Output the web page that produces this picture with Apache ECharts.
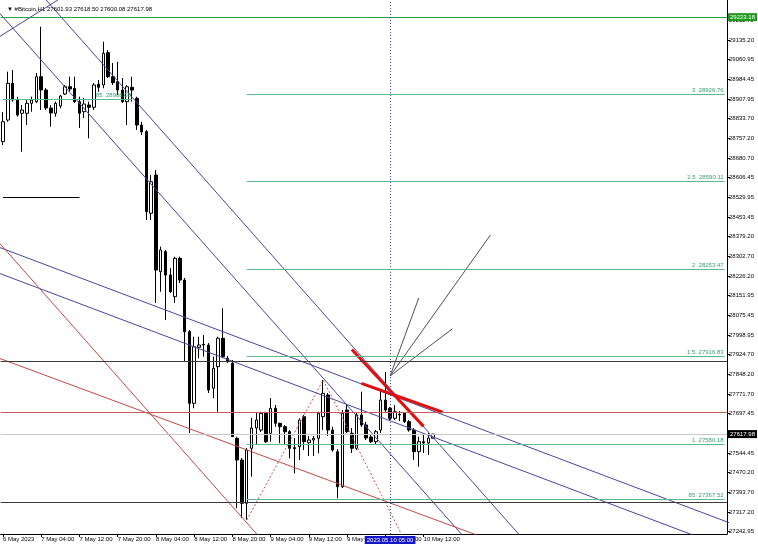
<!DOCTYPE html>
<html><head><meta charset="utf-8">
<script src="https://cdn.jsdelivr.net/npm/echarts@6/dist/echarts.min.js"></script>
<style>html,body{margin:0;padding:0;background:#fff}#c{width:758px;height:546px}</style>
</head><body><div id="c"></div>
<script>
// ---------- DATA ----------
const chartTitle = '\u25BC #Bitcoin,H1 27601.93 27618.50 27600.08 27617.98';
const slotCount = 152; // hourly slots shown (bars + right shift)
const xTickLabels = ['6 May 2023','7 May 04:00','7 May 12:00','7 May 20:00','8 May 04:00','8 May 12:00',
  '8 May 20:00','9 May 04:00','9 May 12:00','9 May 20:00','10 May 04:00','10 May 12:00'];
const yTickValues = [29211.70,29135.20,29060.95,28984.45,28907.95,28833.70,28757.20,28680.70,28606.45,
  28529.95,28453.45,28379.20,28302.70,28226.20,28151.95,28075.45,27998.95,27924.70,27848.20,27771.70,
  27697.45,27620.95,27544.45,27470.20,27393.70,27317.20,27242.95];
const opens = [28743.7,28827.2,28968.5,28904.2,28853.0,28853.0,28891.5,28897.7,28993.9,28942.7,
  28873.4,28853.0,28881.1,28927.3,28955.4,28949.2,28897.7,28859.2,28885.0,28876.1,
  28964.7,28962.0,29086.3,28993.9,28974.7,28942.7,28897.7,28953.1,28910.8,28807.9,
  28782.2,28468.0,28615.5,28243.2,28320.2,28230.5,28146.9,28294.7,28211.2,28012.2,
  27736.5,27952.1,27963.7,27961.0,27794.2,27877.4,27986.8,27909.7,27890.5,27601.7,
  27518.2,27351.5,27563.3,27641.4,27633.7,27698.0,27621.0,27717.2,27659.5,27646.4,
  27627.1,27565.6,27569.4,27684.9,27584.8,27595.2,27601.7,27684.9,27768.5,27633.7,
  27550.2,27415.4,27710.7,27621.0,27563.3,27691.5,27652.9,27606.8,27588.7,27633.7,
  27749.2,27717.2,27678.7,27693.4,27699.2,27665.7,27633.7,27550.2,27588.7,27583.7,27601.93];
const highs = [28858.0,29013.2,29019.7,28916.9,28885.0,28904.2,28916.9,29008.2,29186.4,28950.4,
  28885.0,28897.7,28923.5,28961.9,28993.9,28993.9,28916.9,28911.9,28897.7,28969.7,
  28981.2,29128.7,29096.7,29046.6,29051.7,28988.9,28962.0,28993.9,28916.9,28820.7,
  28788.7,28615.5,28634.7,28339.4,28326.7,28257.4,28300.9,28300.9,28218.9,28018.7,
  27992.9,27992.9,27999.5,27968.7,27915.9,27992.9,28102.2,27918.6,27903.2,27607.9,
  27525.9,27564.4,27679.9,27699.2,27704.2,27704.2,27756.9,27730.0,27661.8,27652.9,
  27633.7,27602.9,27678.7,27691.5,27610.6,27610.6,27704.2,27826.2,27776.2,27646.4,
  27560.6,27710.7,27730.0,27641.4,27699.2,27781.1,27664.5,27614.5,27633.7,27787.7,
  27857.0,27722.3,27730.0,27706.9,27703.0,27672.2,27641.4,27607.9,27614.5,27622.2,27618.50];
const lows = [28731.0,28820.7,28897.7,28839.9,28705.2,28808.0,28859.2,28892.7,28865.7,28865.7,
  28801.4,28839.9,28872.2,28923.5,28936.2,28892.7,28796.4,28834.9,28756.7,28865.7,
  28936.2,28949.3,28988.9,28962.0,28923.5,28892.7,28808.0,28897.7,28788.7,28769.5,
  28442.2,28442.2,28122.7,28166.2,28057.2,28161.2,28122.7,28199.7,27896.7,27622.2,
  27717.2,27909.8,27915.9,27776.2,27755.7,27704.2,27909.7,27891.7,27606.8,27332.3,
  27294.9,27287.2,27453.9,27576.0,27626.0,27583.7,27588.7,27646.4,27582.5,27576.0,
  27524.7,27467.0,27518.2,27556.7,27533.6,27533.6,27544.0,27633.7,27610.6,27550.2,
  27370.8,27410.4,27622.2,27545.2,27556.7,27645.3,27595.2,27583.7,27579.8,27622.2,
  27699.2,27672.2,27672.2,27668.4,27660.7,27627.1,27518.2,27492.4,27545.2,27537.5,27600.08];
const closes = [28820.7,28968.5,28904.2,28846.5,28865.7,28891.5,28904.2,28993.9,28942.7,28873.4,
  28854.2,28891.5,28919.6,28955.4,28946.6,28897.7,28853.0,28888.8,28876.1,28962.0,
  28953.1,29084.0,28993.9,28970.8,28942.7,28897.7,28955.4,28942.7,28807.9,28782.2,
  28474.2,28589.6,28249.7,28326.7,28230.5,28166.2,28294.7,28211.2,28012.2,27736.5,
  27954.4,27961.0,27961.0,27787.7,27871.2,27986.8,27915.9,27896.7,27607.9,27518.2,
  27351.5,27556.7,27641.4,27672.2,27698.0,27588.7,27717.2,27659.5,27646.4,27627.1,
  27563.3,27562.0,27672.2,27588.7,27595.2,27601.7,27698.0,27775.0,27633.7,27556.7,
  27415.4,27698.0,27627.1,27563.3,27691.5,27652.9,27602.9,27588.7,27627.1,27749.2,
  27710.7,27678.7,27704.2,27691.5,27665.7,27633.7,27550.2,27588.7,27583.7,27602.9,27617.98];

// trend lines: [startSlot, startPrice, endSlot, endPrice]
const navyTrendLines = [
  [-3, 29539.1, 112, 27147.8],
  [-4, 29306.5, 100, 27148.2],
  [-1, 29144.8, 14, 29318.8],
  [-1, 28338.6, 155, 27255.6],
  [-1, 28238.5, 155, 27155.5]
];
const redTrendLines = [
  [-1, 27911.3, 110, 27155.2],
  [-1, 28358.7, 60, 27089.3]
];
const boldRedLines = [
  [73, 27943.6, 88, 27647.6],
  [75, 27813.5, 92, 27702.6]
];
const zigzagSlots = [51, 67, 84];
const zigzagPrices = [27287.2, 27826.2, 27210.0];
const fanOrigin = [81, 27841.6];
const fanEnds = [[102, 28384.5], [87, 28141.9], [94, 28022.6]];
const fibLevelNames = ['3', '2.5', '2', '1.5', '1', '85'];
const fibLevelPrices = [28926.76, 28590.11, 28253.47, 27916.83, 27580.18, 27367.52];
const fibStartSlot = 51;
const leftFib = {name: '85', price: 28908.0, from: 0, to: 27};
const shortBlackLine = {price: 28530.75, from: 0, to: 16};
const topGreenLevel = 29223.18;
const darkLevels = [27900.0, 27356.5];
const redLevel = 27703.0;
const bidPrice = 27617.98;
const cursorSlot = 81;
const cursorLabel = '2023.05.10 05:00';

// ---------- CHART ----------
const base = new Date(2023, 4, 6, 20, 0);
const pad = n => String(n).padStart(2, '0');
const categories = [];
for (let i = 0; i < slotCount; i++) {
  const d = new Date(base.getTime() + i * 3600000);
  categories.push(d.getFullYear() + '.' + pad(d.getMonth() + 1) + '.' + pad(d.getDate()) + ' ' + pad(d.getHours()) + ':00');
}
const FONT = 'Liberation Sans, DejaVu Sans, sans-serif';
const candleData = opens.map((o, i) => [o, closes[i], lows[i], highs[i]]);

function seg(pts, color, width, type) {
  return {type: 'line', data: pts, symbol: 'none', silent: true, clip: true, animation: false,
    lineStyle: {color: color, width: width, type: type || 'solid'}, z: 3};
}
const series = [];
series.push({
  type: 'candlestick', data: candleData, barWidth: 3, animation: false, silent: true, z: 2,
  itemStyle: {color: '#ffffff', color0: '#000000', borderColor: '#000000', borderColor0: '#000000', borderWidth: 1},
  markLine: {
    symbol: 'none', silent: true, animation: false, precision: 2,
    data: [
      {yAxis: topGreenLevel, lineStyle: {color: '#2ea043', width: 1, type: 'solid'},
       label: {show: true, position: 'end', distance: 1, formatter: topGreenLevel.toFixed(2), color: '#fff',
               backgroundColor: '#1f9a1f', padding: [1, 2], fontSize: 6, fontFamily: FONT}},
      {yAxis: darkLevels[0], lineStyle: {color: '#3a3a3a', width: 1, type: 'solid'}, label: {show: false}},
      {yAxis: darkLevels[1], lineStyle: {color: '#3a3a3a', width: 1, type: 'solid'}, label: {show: false}},
      {yAxis: redLevel, lineStyle: {color: '#c85a5a', width: 1, type: 'solid'}, label: {show: false}},
      {yAxis: bidPrice, lineStyle: {color: '#c8c8c8', width: 1, type: 'solid'},
       label: {show: true, position: 'end', distance: 1, formatter: bidPrice.toFixed(2), color: '#fff',
               backgroundColor: '#000', padding: [1, 2], fontSize: 6, fontFamily: FONT}},
      {xAxis: cursorSlot, lineStyle: {color: '#4a4aa8', width: 1, type: [1, 2]},
       label: {show: true, position: 'start', distance: 2, formatter: cursorLabel, color: '#fff',
               backgroundColor: '#1414c8', padding: [1, 2], fontSize: 6, fontFamily: FONT}},
      [{coord: [shortBlackLine.from, shortBlackLine.price], lineStyle: {color: '#000', width: 1, type: 'solid'}, label: {show: false}},
       {coord: [shortBlackLine.to, shortBlackLine.price]}],
      [{coord: [leftFib.from, leftFib.price], lineStyle: {color: '#5cba8a', width: 1, type: 'solid'},
        label: {show: true, position: 'insideEndTop', distance: 1, formatter: leftFib.name + '  ' + leftFib.price.toFixed(2),
                color: '#3aa070', fontSize: 6, fontFamily: FONT}},
       {coord: [leftFib.to, leftFib.price]}]
    ].concat(fibLevelPrices.map((p, k) => [
      {coord: [fibStartSlot, p], lineStyle: {color: '#5cba8a', width: 1, type: 'solid'},
       label: {show: true, position: 'insideEndTop', distance: 1, formatter: fibLevelNames[k] + '  ' + p.toFixed(2),
               color: '#3aa070', fontSize: 6, fontFamily: FONT}},
      {coord: [slotCount - 1, p]}
    ]))
  }
});
navyTrendLines.forEach(l => series.push(seg([[l[0], l[1]], [l[2], l[3]]], '#4646a0', 1)));
redTrendLines.forEach(l => series.push(seg([[l[0], l[1]], [l[2], l[3]]], '#c84646', 1)));
series.push(seg(zigzagSlots.map((s, k) => [s, zigzagPrices[k]]), '#c85050', 1, [2, 2]));
boldRedLines.forEach(l => series.push(seg([[l[0], l[1]], [l[2], l[3]]], '#e01010', 3)));
fanEnds.forEach(e => series.push(seg([fanOrigin, e], '#505050', 1)));

const chart = echarts.init(document.getElementById('c'), null, {renderer: 'canvas'});
chart.setOption({
  animation: false,
  backgroundColor: '#ffffff',
  title: {text: chartTitle, left: 2, top: 1, textStyle: {fontSize: 6, fontWeight: 'normal', color: '#000', fontFamily: FONT}},
  grid: {left: 0, right: 31, top: 0, bottom: 12, containLabel: false},
  xAxis: {
    type: 'category', data: categories, boundaryGap: true,
    axisLine: {show: true, lineStyle: {color: '#000', width: 1}},
    axisTick: {show: true, length: 3, interval: i => i % 8 === 0 && i / 8 < xTickLabels.length, alignWithLabel: true, lineStyle: {color: '#000'}},
    axisLabel: {show: true, interval: i => i % 8 === 0 && i / 8 < xTickLabels.length,
      formatter: (v, i) => xTickLabels[i / 8] || '', align: 'left', margin: 2, fontSize: 6, color: '#000', fontFamily: FONT},
    splitLine: {show: false}
  },
  yAxis: {
    type: 'value', position: 'right', min: 27233.3, max: 29289.2, scale: true,
    axisLine: {show: true, lineStyle: {color: '#000', width: 1}},
    axisTick: {show: true, length: 3, customValues: yTickValues, lineStyle: {color: '#000'}},
    axisLabel: {show: true, customValues: yTickValues, formatter: v => v.toFixed(2), margin: 2, fontSize: 6, color: '#000', fontFamily: FONT},
    splitLine: {show: false}
  },
  series: series
});
</script></body></html>
